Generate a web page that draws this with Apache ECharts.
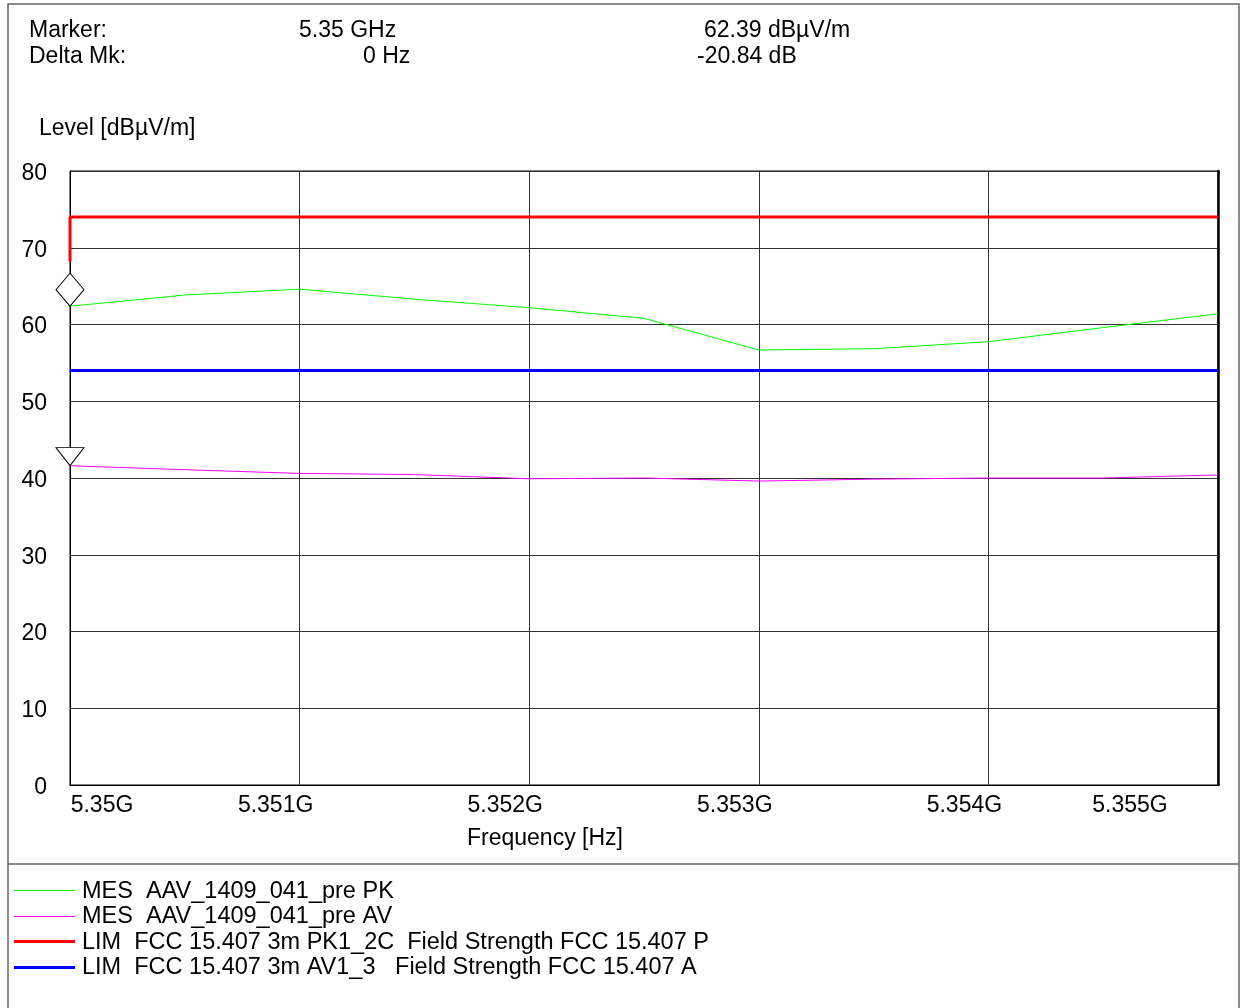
<!DOCTYPE html>
<html>
<head>
<meta charset="utf-8">
<script src="https://cdn.jsdelivr.net/npm/echarts@6/dist/echarts.min.js"></script>
<style>
html,body{margin:0;padding:0;background:#fff;}
#chart{width:1242px;height:1008px;}
</style>
</head>
<body>
<div id="chart"></div>
<script>
// ---- data ----
const freqGHz   = [5.35, 5.3505, 5.351, 5.3515, 5.352, 5.3525, 5.353, 5.3535, 5.354, 5.3545, 5.355];
const pkLevels  = [62.39, 63.84, 64.6, 63.3, 62.19, 60.8, 56.68, 56.85, 57.76, 59.6, 61.4];
const avLevels  = [41.6, 41.08, 40.6, 40.45, 39.9, 40.0, 39.6, 39.85, 40.0, 40.0, 40.4];
const pkLimitFreq  = [5.35, 5.35, 5.355];
const pkLimitLevel = [68.2, 74, 74];
const avLimitFreq  = [5.35, 5.355];
const avLimitLevel = [54, 54];
const markerFreq = 5.35;
const markerPk = 62.39;
const markerAv = 41.6;
const xTickLabels  = ['5.35G', '5.351G', '5.352G', '5.353G', '5.354G', '5.355G'];
const seriesNames = [
  'MES  AAV_1409_041_pre PK',
  'MES  AAV_1409_041_pre AV',
  'LIM  FCC 15.407 3m PK1_2C  Field Strength FCC 15.407 P',
  'LIM  FCC 15.407 3m AV1_3   Field Strength FCC 15.407 A'
];
const seriesColors = ['#00ff00', '#ff00ff', '#ff0000', '#0000ff'];
const seriesWidths = [1, 1, 3, 3];
const headerTexts = [
  ['Marker:', 29, 29], ['Delta Mk:', 29, 55],
  ['5.35 GHz', 299, 29], ['0 Hz', 363, 55],
  ['62.39 dBµV/m', 704, 29], ['-20.84 dB', 697, 55],
  ['Level [dBµV/m]', 39, 127], ['Frequency [Hz]', 467, 837]
];

const FONT = '"Liberation Sans", Arial, Helvetica, sans-serif';
const FS = 23;
const zip = (a, b) => a.map((v, i) => [v, b[i]]);

const chart = echarts.init(document.getElementById('chart'), null, {renderer: 'canvas'});
const graphics = [
  {type: 'rect', shape: {x: 8, y: 4, width: 1231, height: 1012}, style: {fill: 'none', stroke: '#666', lineWidth: 1.5}, silent: true},
  {type: 'line', shape: {x1: 8, y1: 864, x2: 1239, y2: 864}, style: {stroke: '#666', lineWidth: 1.5}, silent: true}
];
headerTexts.forEach(t => graphics.push({
  type: 'text', left: t[1], top: t[2] - FS / 2 + 2,
  style: {text: t[0], font: FS + 'px ' + FONT, fill: '#000'}, silent: true
}));
// legend block (lines + names)
seriesNames.forEach((name, i) => {
  const cy = 890 + i * 25.5;
  const ly = seriesWidths[i] % 2 ? Math.round(cy) + 0.5 : Math.round(cy);
  graphics.push({type: 'line', shape: {x1: 14, y1: ly, x2: 75, y2: ly},
    style: {stroke: seriesColors[i], lineWidth: seriesWidths[i]}, silent: true});
  graphics.push({type: 'text', left: 82, top: cy - 11.5 + 1,
    style: {text: name, font: '23.5px ' + FONT, fill: '#000'}, silent: true});
});

const labelKey = i => (i === 0 ? 'first' : (i === xTickLabels.length - 1 ? 'last' : 'mid'));
const labelFont = {fontFamily: FONT, fontSize: FS, color: '#000'};

chart.setOption({
  animation: false,
  backgroundColor: '#fff',
  graphic: graphics,
  grid: {left: 70, right: 24, top: 171, bottom: 223, show: true, borderColor: '#000', borderWidth: 1},
  xAxis: {
    type: 'value', min: 5.35, max: 5.355, interval: 0.001, position: 'bottom',
    axisLine: {show: true, lineStyle: {color: '#000', width: 1}},
    axisTick: {show: false},
    axisLabel: {
      show: true, margin: 9, showMinLabel: true, showMaxLabel: true, hideOverlap: false,
      align: 'center', color: '#000', fontFamily: FONT, fontSize: FS,
      formatter: (v, i) => '{' + labelKey(i) + '|' + xTickLabels[i] + '}',
      rich: {
        first: Object.assign({padding: [0, 0, 0, 64]}, labelFont),
        mid: Object.assign({padding: [0, 48, 0, 0]}, labelFont),
        last: Object.assign({padding: [0, 176, 0, 0]}, labelFont)
      }
    },
    splitLine: {show: true, lineStyle: {color: '#333', width: 1}}
  },
  yAxis: [{
    type: 'value', min: 0, max: 80, interval: 10,
    axisLine: {show: true, lineStyle: {color: '#000', width: 1}},
    axisTick: {show: false},
    axisLabel: {
      margin: 23, color: '#000', fontFamily: FONT, fontSize: FS,
      formatter: v => '{n|' + v + '}',
      rich: {n: Object.assign({padding: [5, 0, 0, 0]}, labelFont)}
    },
    splitLine: {show: true, lineStyle: {color: '#333', width: 1}}
  }, {
    type: 'value', min: 0, max: 80, interval: 10, position: 'right',
    axisLine: {show: true, lineStyle: {color: '#000', width: 2.5}},
    axisTick: {show: false}, axisLabel: {show: false}, splitLine: {show: false}
  }],
  series: [
    {name: seriesNames[0], type: 'line', data: zip(freqGHz, pkLevels), symbol: 'none',
     lineStyle: {color: seriesColors[0], width: seriesWidths[0]}, itemStyle: {color: seriesColors[0]}, z: 4},
    {name: seriesNames[1], type: 'line', data: zip(freqGHz, avLevels), symbol: 'none',
     lineStyle: {color: seriesColors[1], width: seriesWidths[1]}, itemStyle: {color: seriesColors[1]}, z: 4},
    {name: seriesNames[2], type: 'line', data: zip(pkLimitFreq, pkLimitLevel), symbol: 'none',
     lineStyle: {color: seriesColors[2], width: seriesWidths[2]}, itemStyle: {color: seriesColors[2]}, z: 3},
    {name: seriesNames[3], type: 'line', data: zip(avLimitFreq, avLimitLevel), symbol: 'none',
     lineStyle: {color: seriesColors[3], width: seriesWidths[3]}, itemStyle: {color: seriesColors[3]}, z: 3},
    {name: 'markerPk', type: 'scatter', data: [[markerFreq, markerPk]], symbol: 'diamond',
     symbolSize: [28, 33], symbolOffset: [0, '-50%'],
     itemStyle: {color: '#fff', borderColor: '#000', borderWidth: 1, opacity: 1}, z: 6, silent: true},
    {name: 'markerAv', type: 'scatter', data: [[markerFreq, markerAv]],
     symbol: 'path://M0,0 L28,0 L14,18 Z', symbolKeepAspect: false,
     symbolSize: [28, 18], symbolOffset: [0, '-50%'],
     itemStyle: {color: '#fff', borderColor: '#000', borderWidth: 1, opacity: 1}, z: 6, silent: true}
  ]
});
</script>
</body>
</html>
